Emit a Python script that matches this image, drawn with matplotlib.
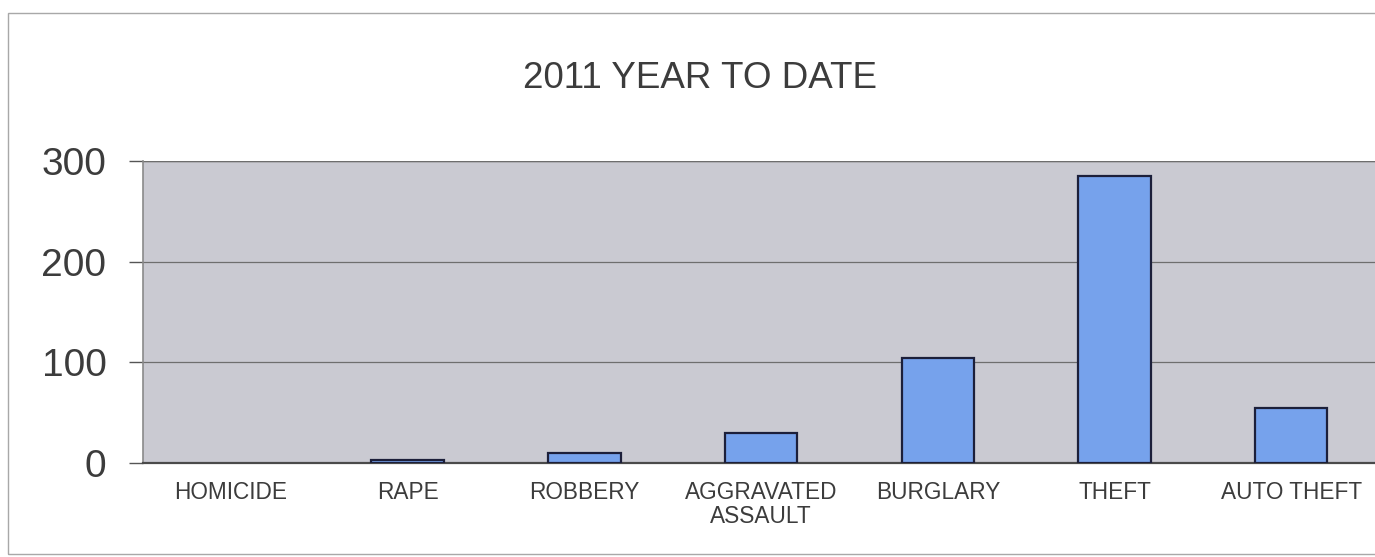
import matplotlib.pyplot as plt
from matplotlib.patches import Rectangle

plt.rcParams['font.family'] = ['Liberation Sans', 'DejaVu Sans']

categories = ["HOMICIDE", "RAPE", "ROBBERY", "AGGRAVATED\nASSAULT",
              "BURGLARY", "THEFT", "AUTO THEFT"]
counts = [0, 3, 10, 30, 104, 285, 55]
y_ticks = [0, 100, 200, 300]
title = "2011 YEAR TO DATE"

TEXT_COL = "#3c3c3c"
BAR_COL = "#76a2ec"
EDGE_COL = "#1c1f3a"
PLOT_BG = "#cacad2"
GRID_COL = "#6e6e6e"

W, H = 1375, 557
fig = plt.figure(figsize=(W / 100, H / 100), dpi=100)
fig.patch.set_facecolor("white")

# outer chart frame (cut off at the right like the scan)
fig.patches.append(Rectangle((8 / W, 1 - 554 / H), 1.0, (554 - 13) / H,
                             transform=fig.transFigure, fill=False,
                             edgecolor="#a8a8a8", linewidth=1.0, clip_on=False))

ax = fig.add_axes([142.6 / W, 1 - 463 / H, 1237 / W, (463 - 161) / H])
ax.set_facecolor(PLOT_BG)

x = list(range(len(categories)))
# zero-height bars draw no outline in the original
edges = [EDGE_COL if v > 0 else "none" for v in counts]
ax.bar(x, counts, width=0.41, color=BAR_COL, edgecolor=edges,
       linewidth=1.6, zorder=3)

ax.set_xlim(-0.5, len(categories) - 0.5)
ax.set_ylim(0, 300)
ax.set_yticks(y_ticks)
ax.set_yticklabels([str(v) for v in y_ticks], fontsize=28, color=TEXT_COL)
ax.set_xticks(x)
ax.set_xticklabels(categories, fontsize=16.3, color=TEXT_COL, linespacing=1.08)

ax.yaxis.grid(True, color=GRID_COL, linewidth=0.9, zorder=1)
ax.set_axisbelow(True)

ax.tick_params(axis="y", length=10, width=1, color="#555555", pad=16)
ax.tick_params(axis="x", length=0, pad=13)

for side in ("top", "right"):
    ax.spines[side].set_visible(False)
ax.spines["left"].set_color("#8a8a8a")
ax.spines["left"].set_linewidth(1.2)
ax.spines["bottom"].set_color("#4a4a4a")
ax.spines["bottom"].set_linewidth(1.6)
ax.axhline(300, color=GRID_COL, linewidth=1.0, zorder=2)

fig.text(700 / W, 1 - 79 / H, title, fontsize=26.5, color=TEXT_COL,
         ha="center", va="center")

fig.savefig("out.png", dpi=100)
